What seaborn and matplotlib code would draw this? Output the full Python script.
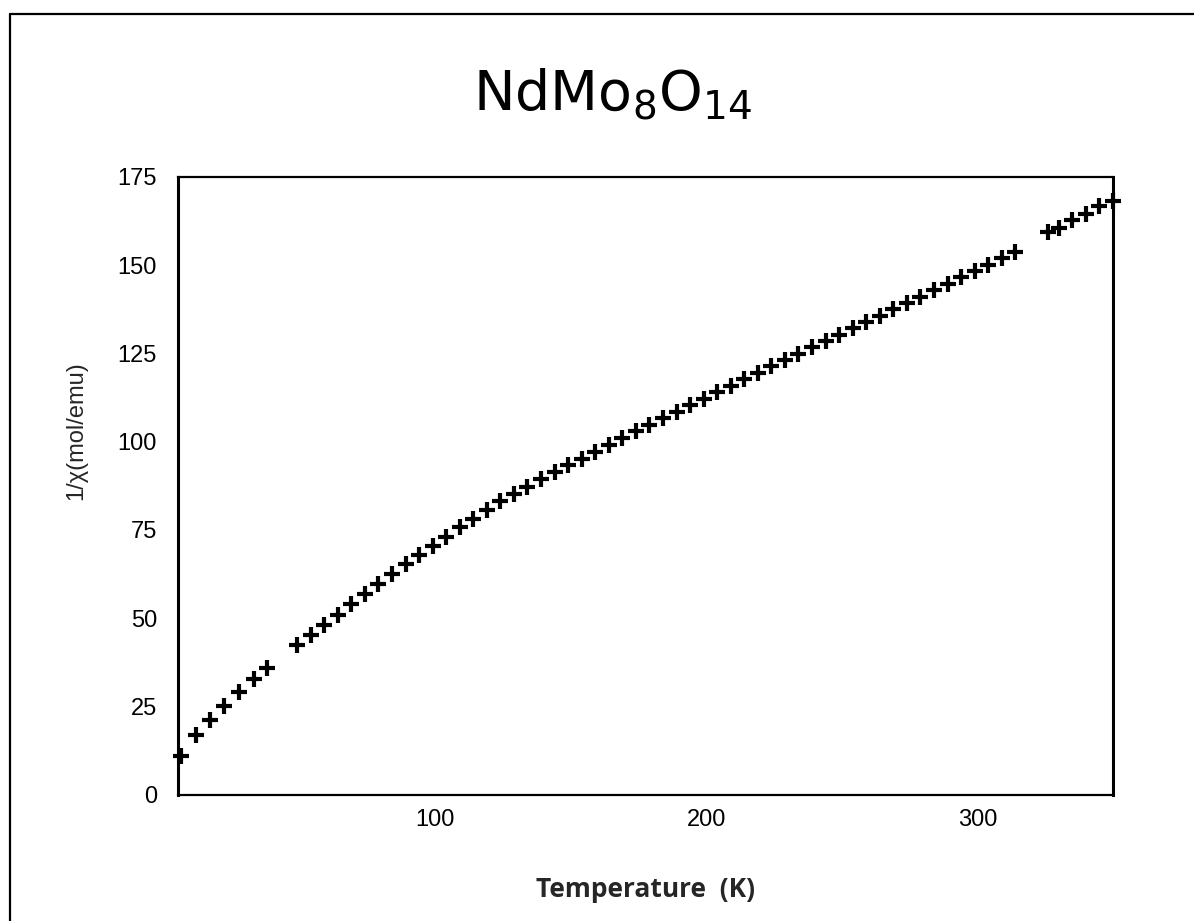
import matplotlib
matplotlib.use("Agg")
import matplotlib.pyplot as plt
import seaborn as sns
import pandas as pd
from matplotlib.lines import Line2D

# ---- data ----
temperature_low = [6, 11.5, 17, 22, 27.5, 33, 38]
inv_chi_low = [11.0, 17.0, 21.3, 25.2, 29.0, 32.8, 36.0]

temperature_mid = [49, 54, 59, 64, 69, 74, 79, 84, 89, 94, 99, 104, 109, 114,
                   119, 124, 129, 134, 139, 144, 149, 154, 159, 164, 169, 174,
                   179, 184, 189, 194, 199, 204, 209, 214, 219, 224, 229, 234,
                   239, 244, 249, 254, 259, 264, 269, 274, 279, 284, 289, 294,
                   299, 304, 309, 314]
inv_chi_mid = [42.3, 45.2, 48.1, 51.0, 53.9, 56.8, 59.7, 62.6, 65.3, 67.9,
               70.5, 73.1, 75.7, 78.2, 80.7, 83.1, 85.2, 87.2, 89.3, 91.3,
               93.3, 95.2, 97.2, 99.1, 101.0, 102.9, 104.8, 106.7, 108.5,
               110.4, 112.2, 114.0, 115.9, 117.7, 119.5, 121.3, 123.1, 124.9,
               126.7, 128.5, 130.3, 132.1, 133.9, 135.7, 137.5, 139.3, 141.1,
               142.9, 144.7, 146.5, 148.3, 150.1, 151.9, 153.7]

temperature_high = [326, 330, 335, 340, 345, 350]
inv_chi_high = [159.3, 160.4, 162.8, 164.4, 166.6, 168.2]

x_ticks = [100, 200, 300]
y_ticks = [0, 25, 50, 75, 100, 125, 150, 175]
title_text = r"NdMo$_8$O$_{14}$"
x_label = "Temperature  (K)"
y_label = "1/\u03c7(mol/emu)"

df = pd.DataFrame({
    "T": temperature_low + temperature_mid + temperature_high,
    "inv_chi": inv_chi_low + inv_chi_mid + inv_chi_high,
})

sns.set_theme(style="white")
plt.rcParams["font.family"] = ["Liberation Sans", "DejaVu Sans"]

fig = plt.figure(figsize=(11.94, 9.21), dpi=100)
ax = fig.add_axes([0.149, 0.137, 0.783, 0.671])

sns.scatterplot(data=df, x="T", y="inv_chi", marker="+", s=140,
                linewidth=3.0, color="black", ax=ax, clip_on=False,
                zorder=3)

ax.set_xlim(5, 350)
ax.set_ylim(0, 175)
ax.set_xticks(x_ticks)
ax.set_yticks(y_ticks)
ax.tick_params(axis="y", direction="out", length=9, width=1.6,
               color="black", labelsize=17, labelcolor="black", pad=6)
ax.tick_params(axis="x", direction="out", length=0, width=1.6,
               color="black", labelsize=17, labelcolor="black", pad=10)

for side, sp in ax.spines.items():
    sp.set_visible(True)
    sp.set_color("black")
    sp.set_linewidth(2.2 if side in ("left", "right") else 1.6)

ax.set_xlabel(x_label, fontsize=19, fontweight="bold", family="Open Sans")
ax.xaxis.set_label_coords(0.5, -0.132)
ax.set_ylabel(y_label, fontsize=17)
ax.yaxis.set_label_coords(-0.097, 0.59)
ax.grid(False)

fig.text(0.513, 0.881, title_text, fontsize=40, ha="center", va="baseline",
         color="black", family="DejaVu Sans")

# scanned page border (left and top)
fig.add_artist(Line2D([0.008, 0.008], [0.0, 0.985], color="black", lw=1.6,
                      transform=fig.transFigure))
fig.add_artist(Line2D([0.008, 1.0], [0.985, 0.985], color="black", lw=1.6,
                      transform=fig.transFigure))

fig.savefig("out.png", dpi=100, facecolor="white")
